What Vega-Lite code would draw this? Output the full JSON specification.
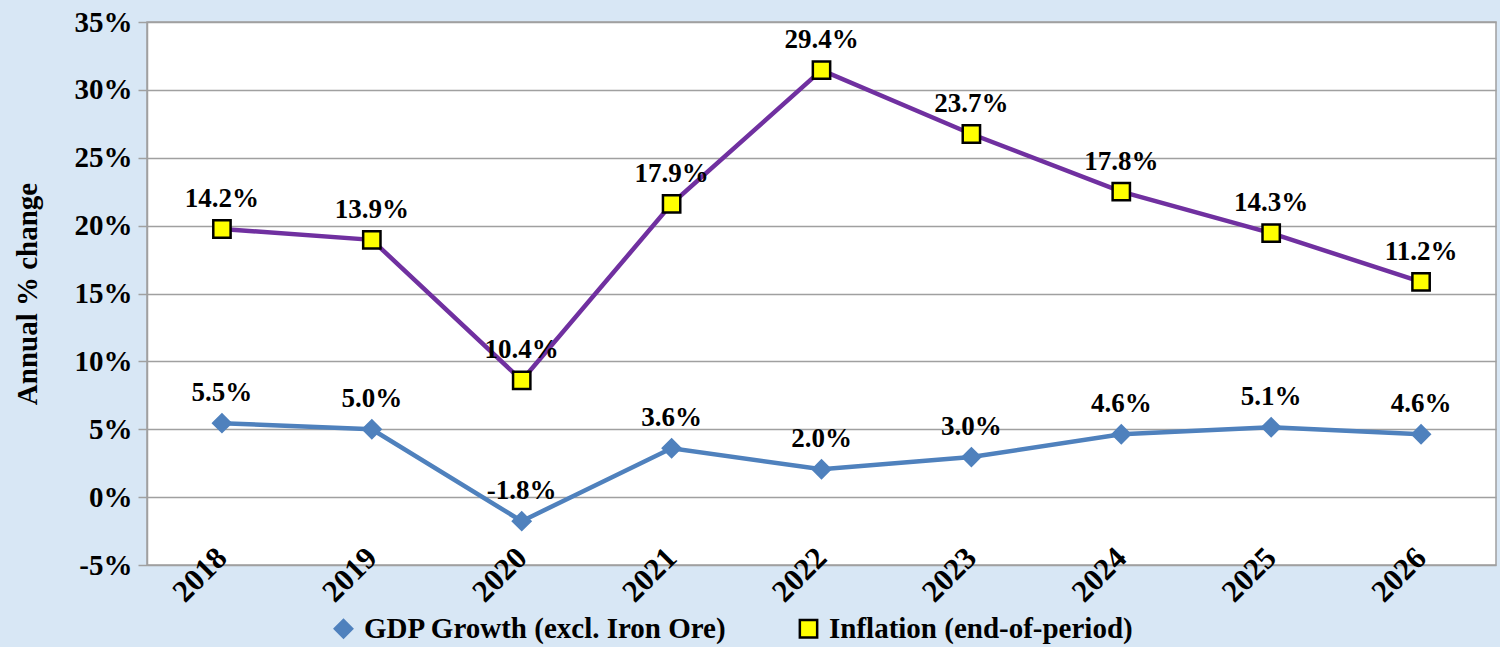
{
  "$schema": "https://vega.github.io/schema/vega-lite/v6.json",
  "width": 1349,
  "height": 543,
  "autosize": "none",
  "padding": {"left": 147, "top": 22, "right": 4, "bottom": 82},
  "background": "#d8e7f5",
  "config": {
    "view": {"fill": "#ffffff", "stroke": "#a0a0a0", "strokeWidth": 1.5},
    "font": "Liberation Serif",
    "legend": {"labelFont": "Liberation Serif", "labelFontWeight": "bold", "labelFontSize": 29, "labelColor": "#000000"}
  },
  "data": {
    "values": [
      {"year": "2018", "series": "GDP Growth (excl. Iron Ore)", "value": 5.45, "label": "5.5%"},
      {"year": "2019", "series": "GDP Growth (excl. Iron Ore)", "value": 5.0, "label": "5.0%"},
      {"year": "2020", "series": "GDP Growth (excl. Iron Ore)", "value": -1.77, "label": "-1.8%"},
      {"year": "2021", "series": "GDP Growth (excl. Iron Ore)", "value": 3.6, "label": "3.6%"},
      {"year": "2022", "series": "GDP Growth (excl. Iron Ore)", "value": 2.05, "label": "2.0%"},
      {"year": "2023", "series": "GDP Growth (excl. Iron Ore)", "value": 2.95, "label": "3.0%"},
      {"year": "2024", "series": "GDP Growth (excl. Iron Ore)", "value": 4.63, "label": "4.6%"},
      {"year": "2025", "series": "GDP Growth (excl. Iron Ore)", "value": 5.15, "label": "5.1%"},
      {"year": "2026", "series": "GDP Growth (excl. Iron Ore)", "value": 4.63, "label": "4.6%"},
      {"year": "2018", "series": "Inflation (end-of-period)", "value": 19.75, "label": "14.2%"},
      {"year": "2019", "series": "Inflation (end-of-period)", "value": 18.95, "label": "13.9%"},
      {"year": "2020", "series": "Inflation (end-of-period)", "value": 8.6, "label": "10.4%"},
      {"year": "2021", "series": "Inflation (end-of-period)", "value": 21.6, "label": "17.9%"},
      {"year": "2022", "series": "Inflation (end-of-period)", "value": 31.45, "label": "29.4%"},
      {"year": "2023", "series": "Inflation (end-of-period)", "value": 26.75, "label": "23.7%"},
      {"year": "2024", "series": "Inflation (end-of-period)", "value": 22.5, "label": "17.8%"},
      {"year": "2025", "series": "Inflation (end-of-period)", "value": 19.45, "label": "14.3%"},
      {"year": "2026", "series": "Inflation (end-of-period)", "value": 15.85, "label": "11.2%"}
    ]
  },
  "encoding": {
    "x": {
      "field": "year", "type": "ordinal",
      "scale": {"type": "point", "padding": 0.5},
      "axis": {
        "title": null, "domain": false, "ticks": false, "grid": false,
        "labelAngle": -45, "labelAlign": "right", "labelBaseline": "middle",
        "labelPadding": -12, "labelFont": "Liberation Serif", "labelFontWeight": "bold",
        "labelFontSize": 31, "labelColor": "#000000"
      }
    },
    "y": {
      "field": "value", "type": "quantitative",
      "scale": {"domain": [-5, 35], "nice": false, "zero": false},
      "axis": {
        "title": "Annual % change", "titleFont": "Liberation Serif", "titleFontWeight": "bold",
        "titleFontSize": 29, "titleColor": "#000000", "titlePadding": 32,
        "values": [-5, 0, 5, 10, 15, 20, 25, 30, 35],
        "labelExpr": "datum.value + '%'",
        "labelFont": "Liberation Serif", "labelFontWeight": "bold", "labelFontSize": 29,
        "labelColor": "#000000", "labelPadding": 6,
        "domainColor": "#a0a0a0", "domainWidth": 1.5,
        "tickColor": "#a0a0a0", "tickSize": 9, "tickWidth": 1.5,
        "gridColor": "#a0a0a0", "gridWidth": 1.5
      }
    }
  },
  "layer": [
    {
      "transform": [{"filter": "datum.series === 'GDP Growth (excl. Iron Ore)'"}],
      "mark": {"type": "line", "strokeWidth": 4.5, "color": "#4f81bd"},
      "encoding": {}
    },
    {
      "transform": [{"filter": "datum.series === 'Inflation (end-of-period)'"}],
      "mark": {"type": "line", "strokeWidth": 4.5, "color": "#7030a0"},
      "encoding": {}
    },
    {
      "mark": {"type": "point", "filled": true, "opacity": 1, "strokeWidth": 2.5},
      "encoding": {
        "shape": {
          "field": "series", "type": "nominal",
          "scale": {"domain": ["GDP Growth (excl. Iron Ore)", "Inflation (end-of-period)"], "range": ["diamond", "square"]},
          "legend": {
            "title": null, "orient": "none", "direction": "horizontal",
            "legendX": 182, "legendY": 592, "columnPadding": 66,
            "labelFont": "Liberation Serif", "labelFontWeight": "bold", "labelFontSize": 29,
            "labelColor": "#000000", "labelLimit": 600, "symbolSize": 300, "symbolStrokeWidth": 2.5,
            "labelOffset": 6
          }
        },
        "fill": {
          "field": "series", "type": "nominal",
          "scale": {"domain": ["GDP Growth (excl. Iron Ore)", "Inflation (end-of-period)"], "range": ["#4f81bd", "#ffff00"]}
        },
        "stroke": {
          "field": "series", "type": "nominal",
          "scale": {"domain": ["GDP Growth (excl. Iron Ore)", "Inflation (end-of-period)"], "range": ["#4f81bd", "#000000"]}
        },
        "size": {"value": 300}
      }
    },
    {
      "mark": {"type": "text", "dy": -30, "font": "Liberation Serif", "fontWeight": "bold", "fontSize": 27, "color": "#000000"},
      "encoding": {
        "text": {"field": "label", "type": "nominal"}
      }
    }
  ]
}
